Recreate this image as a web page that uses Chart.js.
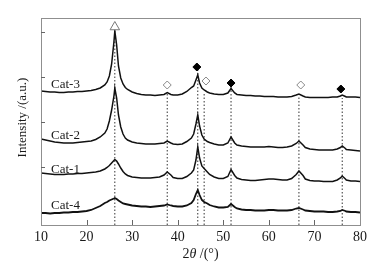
<!DOCTYPE html>
<html>
<head>
<meta charset="utf-8">
<script src="https://cdn.jsdelivr.net/npm/chart.js@4/dist/chart.umd.min.js"></script>
<style>
  html, body { margin: 0; padding: 0; background: #fff; }
  #wrap { width: 376px; height: 268px; position: relative; }
</style>
</head>
<body>
<div id="wrap"><canvas id="xrd"></canvas></div>
<script>
// 2theta positions (deg) shared by all four patterns
const twoTheta = [10, 11, 12, 13, 14, 15, 16, 17, 18, 19,
    20, 21, 22, 23, 24, 24.5, 25, 25.5, 26, 26.2,
    26.6, 27, 27.5, 28, 28.5, 29, 30, 31, 32, 33,
    34, 35, 36, 37, 37.7, 38.5, 39, 40, 41, 42,
    43, 43.5, 44, 44.4, 44.8, 45.3, 45.8, 46.5, 47, 48,
    49, 50, 51, 51.7, 52.5, 53, 54, 55, 56, 57,
    58, 59, 60, 61, 62, 63, 64, 65, 66, 66.6,
    67.5, 68, 69, 70, 71, 72, 73, 74, 75, 75.7,
    76.1, 76.8, 77, 78, 79, 80];

// intensities (a.u., curves already offset)
const cat3 = [121, 120.5, 120, 120, 119.5, 119.5, 120, 120, 120.5, 120.5,
    121, 121.5, 122.5, 124, 127, 130, 136, 148, 170, 181,
    167, 146, 134, 128, 124.5, 122.5, 120, 118.5, 117.5, 117,
    117, 116.5, 117, 117.5, 119.5, 117.5, 117, 117, 118, 120.5,
    124.5, 126, 132, 137, 129, 124, 122, 120, 119, 118,
    117.5, 117.5, 119, 123.5, 119, 117.5, 117, 116.5, 116.5, 116,
    116, 115.5, 115.5, 115.5, 115, 115, 115, 115.5, 117, 118,
    116, 115, 114.5, 114.5, 114.5, 114.5, 114.5, 115, 115, 116,
    117, 115.5, 115, 115, 115, 114.5];

const cat2 = [73, 72, 71, 70, 69.5, 69, 69, 69, 69.5, 70,
    70.5, 71, 72.5, 75, 79, 83, 91, 102, 116, 124,
    114, 97, 85, 78, 74, 72, 70, 69, 68.5, 68,
    68, 68, 68.5, 69, 71, 69, 68, 67.5, 68, 70.5,
    74, 78, 88, 97, 86, 77, 73, 70.5, 69.5, 68,
    67, 67, 69, 75, 69, 67, 66, 65.5, 65, 65,
    65, 65, 65.5, 65, 64.5, 64.5, 65, 66, 68.5, 71,
    67, 64.5, 63, 62.5, 62, 62, 62, 62, 63, 64.5,
    66, 63.5, 62.5, 62, 61.5, 61];

const cat1 = [39, 38.5, 38, 37.5, 37.5, 37.5, 38, 38, 38.5, 38.5,
    39, 39.5, 40, 41, 43, 44.5, 46.5, 49, 51.5, 52.5,
    51, 48, 44, 40.5, 38, 36.5, 35, 34.5, 34, 34,
    34, 34.5, 35, 37, 40, 37, 34.5, 33.5, 33.5, 35.5,
    39, 42, 52, 65, 54, 46, 43.5, 40, 37.5, 35,
    33.5, 33.5, 35.5, 42.5, 36.5, 34, 32.5, 32, 31.5, 31.5,
    32, 32.5, 33, 33, 32.5, 32, 32, 33.5, 37.5, 41,
    36.5, 33, 31.5, 31, 31, 30.5, 30.5, 30.5, 32, 34,
    36, 33, 32, 31, 31, 30.5];

const cat4 = [-1, -1, -1.5, -1, -1, -0.5, -0.5, 0, 0, 0.5,
    1, 2, 4, 6, 9, 10, 11.5, 12.5, 13.5, 14,
    13, 11.5, 10, 8.5, 8, 7.5, 6.5, 6, 5.5, 5.5,
    5, 5.5, 6, 6.5, 7.5, 6.5, 6, 5.5, 5.5, 6.5,
    9, 12, 18, 22, 17, 12, 10, 8.5, 7, 5.5,
    4.5, 4.5, 5, 8, 5, 3.5, 2.5, 2, 2, 1.5,
    1.5, 1.5, 2, 2, 1.5, 1.5, 1.5, 2, 3.5, 4,
    2.5, 1.5, 1, 0.5, 0.5, 0.5, 0, 0, 0.5, 1,
    2, 1, 0.5, 0, 0, -0.5];

// reference peak lines
const peakPos = [26.2, 37.7, 44.4, 45.8, 51.7, 66.6, 76.1];
const peakTop = [181, 118, 143, 120, 125, 116, 114];

// phase markers
const triangleX = [26.2];
const triangleY = [185];
const openDiamondX = [37.7, 46.2, 67.0];
const openDiamondY = [127, 131, 127];
const filledDiamondX = [44.2, 51.7, 75.8];
const filledDiamondY = [145, 129, 123];

const sampleNames = ['Cat-3', 'Cat-2', 'Cat-1', 'Cat-4'];
const sampleData = [cat3, cat2, cat1, cat4];

const Y_MIN = -13;
const Y_MAX = 194;
const serif = "'Liberation Serif', 'Times New Roman', Times, serif";

function toPoints(xs, ys) {
    return xs.map((x, i) => ({ x: x, y: ys[i] }));
}

const datasets = [];

sampleData.forEach((values, i) => {
    datasets.push({
        label: sampleNames[i],
        data: toPoints(twoTheta, values),
        borderColor: '#111',
        borderWidth: sampleNames[i] === 'Cat-4' ? 1.8 : 1.5,
        pointRadius: 0,
        tension: 0,
        order: 2
    });
});

peakPos.forEach((pos, i) => {
    datasets.push({
        label: 'peak' + i,
        data: [{ x: pos, y: Y_MIN }, { x: pos, y: peakTop[i] }],
        borderColor: '#333',
        borderWidth: 1,
        borderDash: [1.5, 2],
        pointRadius: 0,
        order: 3
    });
});

datasets.push({
    label: 'triangle',
    type: 'scatter',
    data: toPoints(triangleX, triangleY),
    pointStyle: 'triangle',
    pointRadius: 5.5,
    backgroundColor: '#fff',
    borderColor: '#777',
    borderWidth: 1,
    order: 1
});
datasets.push({
    label: 'openDiamond',
    type: 'scatter',
    data: toPoints(openDiamondX, openDiamondY),
    pointStyle: 'rectRot',
    pointRadius: 4,
    backgroundColor: '#fff',
    borderColor: '#888',
    borderWidth: 1,
    order: 1
});
datasets.push({
    label: 'filledDiamond',
    type: 'scatter',
    data: toPoints(filledDiamondX, filledDiamondY),
    pointStyle: 'rectRot',
    pointRadius: 4,
    backgroundColor: '#000',
    borderColor: '#000',
    borderWidth: 1,
    order: 1
});

// frame, inward ticks and text that Chart.js cannot style itself
const decorations = {
    id: 'decorations',
    afterDraw(chart, args, opts) {
        const ctx = chart.ctx;
        const area = chart.chartArea;
        const xs = chart.scales.x;
        const ys = chart.scales.y;
        ctx.save();

        ctx.strokeStyle = '#8f8f8f';
        ctx.lineWidth = 1;
        ctx.strokeRect(Math.round(area.left) + 0.5, Math.round(area.top) + 0.5,
            Math.round(area.right - area.left), Math.round(area.bottom - area.top));

        ctx.strokeStyle = '#666';
        ctx.beginPath();
        xs.ticks.forEach(t => {
            if (t.value <= xs.min || t.value >= xs.max) return;
            const px = Math.round(xs.getPixelForValue(t.value)) + 0.5;
            ctx.moveTo(px, area.bottom);
            ctx.lineTo(px, area.bottom - 5);
        });
        ys.ticks.forEach(t => {
            if (t.value <= ys.min || t.value >= ys.max) return;
            const py = Math.round(ys.getPixelForValue(t.value)) + 0.5;
            ctx.moveTo(area.left, py);
            ctx.lineTo(area.left + 4, py);
        });
        ctx.stroke();

        ctx.fillStyle = '#1a1a1a';
        ctx.font = '13px ' + serif;
        ctx.textAlign = 'left';
        ctx.textBaseline = 'alphabetic';
        opts.labels.forEach((lab, i) => {
            ctx.fillText(sampleNames[i], xs.getPixelForValue(lab.x), ys.getPixelForValue(lab.y));
        });

        // x title: 2θ /(°) with italic theta
        const cx = (area.left + area.right) / 2;
        const base = 258;
        const normal = '14px ' + serif;
        const italic = 'italic 14px ' + serif;
        ctx.font = normal;
        const w1 = ctx.measureText('2').width;
        const w3 = ctx.measureText(' /(°)').width;
        ctx.font = italic;
        const w2 = ctx.measureText('θ').width;
        let x0 = cx - (w1 + w2 + w3) / 2;
        ctx.font = normal;
        ctx.fillText('2', x0, base);
        ctx.font = italic;
        ctx.fillText('θ', x0 + w1, base);
        ctx.font = normal;
        ctx.fillText(' /(°)', x0 + w1 + w2, base);

        // y title
        ctx.translate(23, (area.top + area.bottom) / 2 - 4);
        ctx.rotate(-Math.PI / 2);
        ctx.textAlign = 'center';
        ctx.textBaseline = 'middle';
        ctx.font = '13px ' + serif;
        ctx.fillText('Intensity /(a.u.)', 0, 0);
        ctx.restore();
    }
};

new Chart(document.getElementById('xrd').getContext('2d'), {
    type: 'line',
    data: { datasets: datasets },
    options: {
        responsive: true,
        maintainAspectRatio: false,
        animation: false,
        layout: { padding: { top: 18, right: 16, bottom: 0, left: 0 } },
        plugins: {
            legend: { display: false },
            tooltip: { enabled: false },
            decorations: {
                labels: [
                    { x: 12.2, y: 124 },
                    { x: 12.2, y: 73.5 },
                    { x: 12.2, y: 39.5 },
                    { x: 12.2, y: 3.5 }
                ]
            }
        },
        scales: {
            x: {
                type: 'linear',
                min: 10,
                max: 80,
                ticks: {
                    stepSize: 10,
                    padding: 4,
                    color: '#1a1a1a',
                    font: { family: serif, size: 14 }
                },
                grid: { display: false, drawTicks: false },
                border: { display: false },
                afterFit: scale => { scale.height = 43; }
            },
            y: {
                type: 'linear',
                min: Y_MIN,
                max: Y_MAX,
                ticks: { display: false, stepSize: 45 },
                grid: { display: false, drawTicks: false },
                border: { display: false },
                afterFit: scale => { scale.width = 41; }
            }
        }
    },
    plugins: [decorations]
});
</script>
</body>
</html>
